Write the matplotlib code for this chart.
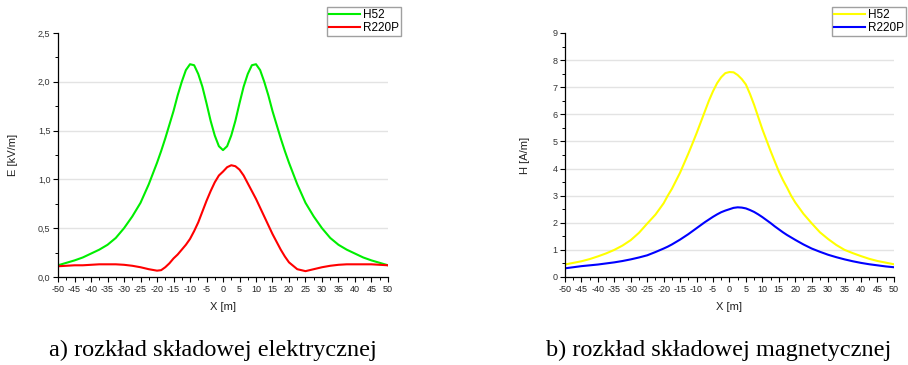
import numpy as np
import matplotlib
matplotlib.use('Agg')
import matplotlib.pyplot as plt
from matplotlib.ticker import MultipleLocator

plt.rcParams['font.family'] = ['Liberation Sans', 'DejaVu Sans']

# ── dane ──────────────────────────────────────
x = [-50, -47.5, -45, -42.5, -40, -37.5, -35, -32.5, -30, -27.5, -25, -22.5,
     -20, -18.75, -17.5, -16.25, -15, -13.75, -12.5, -11.25, -10, -8.75, -7.5, -6.25,
     -5, -3.75, -2.5, -1.25, 0, 1.25, 2.5, 3.75, 5, 6.25, 7.5, 8.75,
     10, 11.25, 12.5, 13.75, 15, 16.25, 17.5, 18.75, 20,
     22.5, 25, 27.5, 30, 32.5, 35, 37.5, 40, 42.5, 45, 47.5, 50]

# składowa elektryczna E [kV/m]
e_h52 = [0.12, 0.145, 0.17, 0.20, 0.24, 0.28, 0.33, 0.40, 0.50, 0.62, 0.76, 0.95,
         1.17, 1.29, 1.42, 1.56, 1.70, 1.86, 2.00, 2.12, 2.18, 2.17, 2.08, 1.95,
         1.78, 1.60, 1.45, 1.34, 1.30, 1.34, 1.45, 1.60, 1.78, 1.95, 2.08, 2.17,
         2.18, 2.12, 2.00, 1.86, 1.70, 1.56, 1.42, 1.29, 1.17,
         0.95, 0.76, 0.62, 0.50, 0.40, 0.33, 0.28, 0.24, 0.20, 0.17, 0.145, 0.12]
e_r220p = [0.11, 0.115, 0.12, 0.12, 0.125, 0.13, 0.13, 0.13, 0.125, 0.115, 0.10, 0.08,
           0.065, 0.07, 0.10, 0.14, 0.19, 0.23, 0.28, 0.33, 0.39, 0.47, 0.56, 0.67,
           0.78, 0.88, 0.97, 1.04, 1.08, 1.125, 1.145, 1.135, 1.10, 1.04, 0.96, 0.88,
           0.80, 0.71, 0.62, 0.53, 0.44, 0.36, 0.28, 0.21, 0.15,
           0.08, 0.06, 0.08, 0.10, 0.115, 0.125, 0.13, 0.13, 0.13, 0.13, 0.125, 0.12]

# składowa magnetyczna H [A/m]
h_h52 = [0.46, 0.52, 0.58, 0.66, 0.76, 0.87, 1.0, 1.16, 1.36, 1.63, 1.97, 2.30,
         2.72, 3.0, 3.25, 3.55, 3.85, 4.2, 4.55, 4.92, 5.3, 5.7, 6.1, 6.5,
         6.85, 7.15, 7.37, 7.52, 7.56, 7.55, 7.45, 7.3, 7.1, 6.75, 6.35, 5.9,
         5.45, 5.05, 4.65, 4.27, 3.9, 3.58, 3.3, 3.0, 2.75,
         2.33, 1.98, 1.65, 1.40, 1.18, 1.0, 0.88, 0.77, 0.67, 0.59, 0.53, 0.47]
h_r220p = [0.32, 0.36, 0.40, 0.43, 0.46, 0.50, 0.54, 0.59, 0.65, 0.72, 0.80, 0.92,
           1.05, 1.12, 1.20, 1.29, 1.38, 1.48, 1.58, 1.69, 1.80, 1.91, 2.02, 2.12,
           2.22, 2.31, 2.39, 2.45, 2.50, 2.55, 2.57, 2.56, 2.53, 2.47, 2.40, 2.31,
           2.21, 2.10, 1.99, 1.87, 1.76, 1.65, 1.55, 1.46, 1.37,
           1.20, 1.05, 0.93, 0.82, 0.73, 0.65, 0.58, 0.52, 0.47, 0.43, 0.39, 0.36]

series_names = ['H52', 'R220P']
x_ticks = list(range(-50, 55, 5))
e_ticks = [0.0, 0.5, 1.0, 1.5, 2.0, 2.5]
h_ticks = list(range(0, 10))

# ── rysunek ───────────────────────────────────
fig = plt.figure(figsize=(9.08, 3.65), dpi=100)
ax1 = fig.add_axes([0.0639, 0.2411, 0.3634, 0.6685])
ax2 = fig.add_axes([0.6222, 0.2411, 0.3623, 0.6685])


def style_axis(ax, yticks, ylabels, ylabel):
    ax.set_xlim(-50, 50)
    ax.set_ylim(yticks[0], yticks[-1])
    ax.set_xticks(x_ticks)
    ax.set_xticklabels([str(t) for t in x_ticks], fontsize=6.5)
    ax.set_yticks(yticks)
    ax.set_yticklabels(ylabels, fontsize=6.5, color='#333333')
    ax.xaxis.set_minor_locator(MultipleLocator(2.5))
    ax.yaxis.set_minor_locator(MultipleLocator((yticks[1] - yticks[0]) / 2))
    ax.tick_params(which='major', direction='out', length=3.5, width=0.8, pad=2)
    ax.tick_params(which='minor', direction='out', length=2, width=0.7)
    ax.tick_params(axis='x', labelcolor='#222222')
    for s in ['top', 'right']:
        ax.spines[s].set_visible(False)
    for s in ['left', 'bottom']:
        ax.spines[s].set_linewidth(0.9)
    for yv in yticks[1:-1]:
        ax.axhline(yv, color='#e3e3e3', lw=1.0, zorder=0)
    ax.set_xlabel('X [m]', fontsize=8, labelpad=6, color='#222222')
    ax.set_ylabel(ylabel, fontsize=8, color='#222222')


style_axis(ax1, e_ticks, [f'{v:.1f}'.replace('.', ',') for v in e_ticks], 'E [kV/m]')
style_axis(ax2, h_ticks, [str(v) for v in h_ticks], 'H [A/m]')
ax1.yaxis.labelpad = 14
ax2.yaxis.labelpad = 16

l1, = ax1.plot(x, e_h52, color='#00ee00', lw=1.5, label=series_names[0])
l2, = ax1.plot(x, e_r220p, color='#ff0000', lw=1.5, label=series_names[1])
l3, = ax2.plot(x, h_h52, color='#ffff00', lw=1.5, label=series_names[0])
l4, = ax2.plot(x, h_r220p, color='#0000ff', lw=1.5, label=series_names[1])

for handles, anchor in [([l1, l2], (0.4416, 0.981)), ([l3, l4], (0.998, 0.981))]:
    leg = fig.legend(handles=handles, loc='upper right', bbox_to_anchor=anchor,
                     fontsize=8.5, frameon=True, fancybox=False, edgecolor='#888888',
                     handlelength=2.6, handletextpad=0.3, borderpad=0.15,
                     labelspacing=0.1, borderaxespad=0)
    leg.get_frame().set_linewidth(1.0)

fig.text(0.2346, 0.041, 'a) rozkład składowej elektrycznej', fontsize=17.5,
         family='Liberation Serif', ha='center', va='center')
fig.text(0.791, 0.041, 'b) rozkład składowej magnetycznej', fontsize=17.5,
         family='Liberation Serif', ha='center', va='center')

fig.savefig('out.png', dpi=100)
